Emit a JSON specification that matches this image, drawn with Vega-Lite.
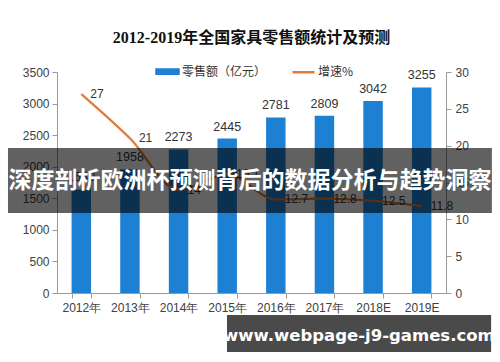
{
  "$schema": "https://vega.github.io/schema/vega-lite/v6.json",
  "width": 389,
  "height": 221,
  "autosize": {"type": "none"},
  "padding": {"left": 57, "top": 72, "right": 54, "bottom": 69},
  "background": "white",
  "config": {
    "view": {"stroke": null},
    "font": "Liberation Sans",
    "axis": {
      "domainColor": "#9a9a9a",
      "tickColor": "#9a9a9a",
      "labelColor": "#404040",
      "labelFont": "Liberation Sans",
      "labelFontSize": 12,
      "grid": false,
      "title": null
    }
  },
  "title": {
    "text": "2012-2019年全国家具零售额统计及预测",
    "font": "Liberation Serif, Noto Sans CJK SC",
    "fontSize": 16,
    "fontWeight": "bold",
    "color": "#111111",
    "anchor": "middle",
    "frame": "group",
    "offset": 13
  },
  "data": {
    "values": [
      {"year": "2012年", "sales": 1640, "growth": 27},
      {"year": "2013年", "sales": 1958, "growth": 21},
      {"year": "2014年", "sales": 2273, "growth": 14},
      {"year": "2015年", "sales": 2445, "growth": 16.1},
      {"year": "2016年", "sales": 2781, "growth": 12.7},
      {"year": "2017年", "sales": 2809, "growth": 12.8},
      {"year": "2018E", "sales": 3042, "growth": 12.5},
      {"year": "2019E", "sales": 3255, "growth": 11.8}
    ]
  },
  "layer": [
    {
      "layer": [
        {
          "layer": [
            {
              "mark": {"type": "bar"},
              "encoding": {
                "x": {
                  "field": "year",
                  "type": "nominal",
                  "sort": null,
                  "scale": {"paddingInner": 0.6, "paddingOuter": 0.3},
                  "axis": {"labelAngle": 0, "tickBand": "extent", "tickSize": 5, "labelPadding": 4}
                },
                "y": {
                  "field": "sales",
                  "type": "quantitative",
                  "scale": {"domain": [0, 3500]},
                  "axis": {"orient": "left", "values": [0, 500, 1000, 1500, 2000, 2500, 3000, 3500], "format": "d", "labelOverlap": false, "tickSize": 5, "labelPadding": 3}
                },
                "color": {
                  "datum": "零售额（亿元）",
                  "type": "nominal",
                  "scale": {"domain": ["零售额（亿元）", "增速%"], "range": ["#1e80d2", "#e07b39"]},
                  "legend": {
                    "title": null,
                    "orient": "none",
                    "legendX": 98,
                    "legendY": -13,
                    "direction": "horizontal",
                    "columnPadding": 20,
                    "symbolSize": 484,
                    "labelFont": "Noto Sans CJK SC",
                    "labelFontSize": 12,
                    "labelColor": "#333333",
                    "labelOffset": 2,
                    "encode": {
                      "symbols": {
                        "update": {
                          "shape": {"signal": "datum.value == '增速%' ? 'stroke' : 'M-1,-0.2H1V0.2H-1Z'"},
                          "fill": {"signal": "datum.value == '增速%' ? 'transparent' : '#1e80d2'"},
                          "stroke": {"signal": "datum.value == '增速%' ? '#e07b39' : 'transparent'"},
                          "strokeWidth": {"value": 2.5}
                        }
                      }
                    }
                  }
                }
              }
            },
            {
              "mark": {"type": "text", "baseline": "bottom", "dy": -5, "fontSize": 12.5, "color": "#333333", "font": "Liberation Sans"},
              "encoding": {
                "x": {"field": "year", "type": "nominal", "sort": null},
                "y": {
                  "field": "sales",
                  "type": "quantitative",
                  "scale": {"domain": [0, 3500]},
                  "axis": {"orient": "left", "values": [0, 500, 1000, 1500, 2000, 2500, 3000, 3500], "format": "d", "labelOverlap": false, "tickSize": 5, "labelPadding": 3}
                },
                "text": {"field": "sales", "type": "quantitative", "format": "d"}
              }
            }
          ]
        },
        {
          "layer": [
            {
              "mark": {"type": "line", "interpolate": "monotone", "strokeWidth": 2.2},
              "encoding": {
                "x": {"field": "year", "type": "nominal", "sort": null},
                "y": {
                  "field": "growth",
                  "type": "quantitative",
                  "scale": {"domain": [0, 30]},
                  "axis": {"orient": "right", "values": [0, 5, 10, 15, 20, 25, 30], "format": "d", "labelOverlap": false, "tickSize": 5, "labelPadding": 4}
                },
                "color": {"datum": "增速%", "type": "nominal"}
              }
            },
            {
              "mark": {"type": "text", "align": "left", "baseline": "middle", "dx": 9, "fontSize": 12, "color": "#333333", "font": "Liberation Sans"},
              "encoding": {
                "x": {"field": "year", "type": "nominal", "sort": null},
                "y": {
                  "field": "growth",
                  "type": "quantitative",
                  "scale": {"domain": [0, 30]},
                  "axis": {"orient": "right", "values": [0, 5, 10, 15, 20, 25, 30], "format": "d", "labelOverlap": false, "tickSize": 5, "labelPadding": 4}
                },
                "text": {"field": "growth", "type": "quantitative"}
              }
            }
          ]
        }
      ],
      "resolve": {"scale": {"y": "independent"}}
    },
    {
      "data": {"values": [{"banner": "深度剖析欧洲杯预测背后的数据分析与趋势洞察", "site": "www.webpage-j9-games.com"}]},
      "layer": [
        {
          "mark": {"type": "rect", "color": "#000000", "opacity": 0.62},
          "encoding": {
            "x": {"datum": -0.126, "type": "quantitative", "scale": {"domain": [0, 1]}, "axis": null},
            "x2": {"datum": 1.118},
            "y": {"datum": 2296, "type": "quantitative", "scale": {"domain": [0, 3500]}, "axis": null},
            "y2": {"datum": 1267}
          }
        },
        {
          "mark": {"type": "text", "color": "white", "fontSize": 23, "fontWeight": "bold", "font": "Noto Sans CJK SC", "baseline": "middle"},
          "encoding": {
            "x": {"datum": 0.496, "type": "quantitative"},
            "y": {"datum": 1775, "type": "quantitative"},
            "text": {"field": "banner"}
          }
        },
        {
          "mark": {"type": "rect", "color": "#4a4a4a"},
          "encoding": {
            "x": {"datum": 0.437, "type": "quantitative"},
            "x2": {"datum": 1.116},
            "y": {"datum": -348, "type": "quantitative"},
            "y2": {"datum": -934}
          }
        },
        {
          "mark": {"type": "text", "color": "white", "fontSize": 16.5, "fontWeight": "bold", "font": "DejaVu Sans", "baseline": "middle"},
          "encoding": {
            "x": {"datum": 0.776, "type": "quantitative"},
            "y": {"datum": -680, "type": "quantitative"},
            "text": {"field": "site"}
          }
        }
      ]
    }
  ],
  "resolve": {"scale": {"x": "independent", "y": "independent"}}
}
